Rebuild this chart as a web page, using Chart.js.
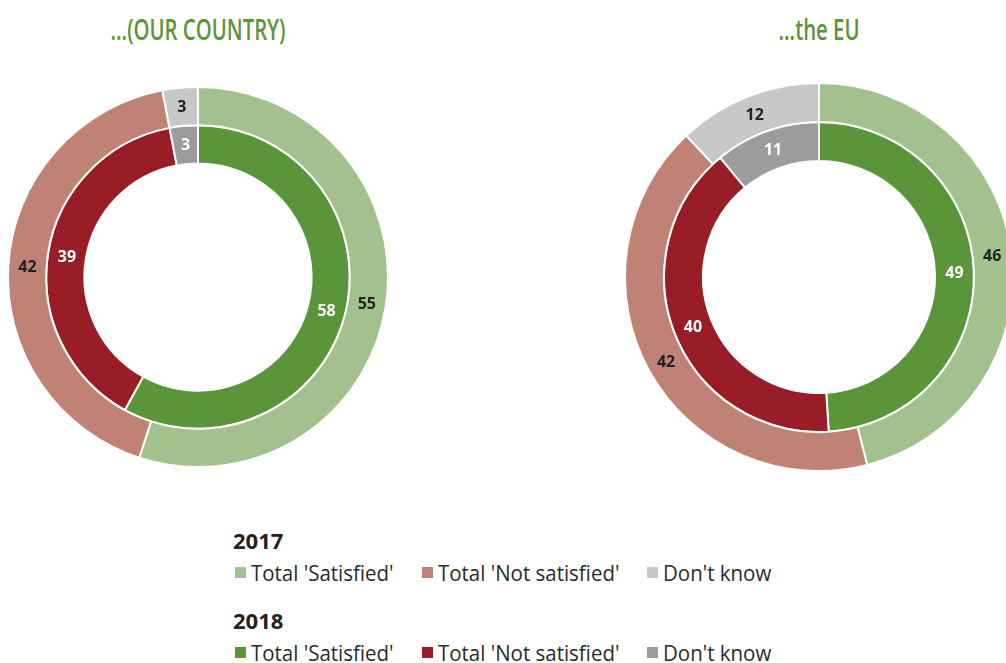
<!DOCTYPE html>
<html>
<head>
<meta charset="utf-8">
<script src="https://cdn.jsdelivr.net/npm/chart.js@4"></script>
<style>
  html, body { margin: 0; padding: 0; background: #fff; }
  body { width: 1006px; height: 663px; position: relative; overflow: hidden; }
  canvas { position: absolute; }
  .title { position: absolute; top: 9px; width: 400px; text-align: center; color: #5a953a;
    font-family: 'Open Sans', sans-serif; font-weight: 600; font-size: 29px; transform: scaleX(0.7); }
  .year { position: absolute; font-family: 'Open Sans', sans-serif; font-weight: bold; font-size: 22px; line-height: 30px; color: #222; }
  .sq { position: absolute; width: 11px; height: 11px; }
  .txt { position: absolute; font-family: 'Open Sans', sans-serif; font-size: 22px; line-height: 30px; color: #2a2a2a; white-space: nowrap;
    transform: scaleX(0.93); transform-origin: left; }
</style>
</head>
<body>
<div class="title" style="left:-2px">...(OUR COUNTRY)</div>
<div class="title" style="left:619px">...the EU</div>
<canvas id="country" width="390" height="390" style="left:3px;top:82px"></canvas>
<canvas id="eu" width="400" height="400" style="left:619px;top:77px"></canvas>
<div id="legend"></div>
<script>
const segments = ["Total 'Satisfied'", "Total 'Not satisfied'", "Don't know"];
const years = ['2017', '2018'];
const country2017 = [55, 42, 3];
const country2018 = [58, 39, 3];
const eu2017 = [46, 42, 12];
const eu2018 = [49, 40, 11];
const colors2017 = ['#a3c08f', '#c08274', '#c8c8c8'];
const colors2018 = ['#5a953a', '#981d27', '#9a9c9e'];
const labelColors = ['#222222', '#ffffff'];

const valueLabels = {
    id: 'valueLabels',
    afterDatasetsDraw(chart) {
        const ctx = chart.ctx;
        ctx.save();
        ctx.font = 'bold 16px "Open Sans", sans-serif';
        ctx.textAlign = 'center';
        ctx.textBaseline = 'middle';
        chart.data.datasets.forEach((ds, i) => {
            chart.getDatasetMeta(i).data.forEach((arc, j) => {
                const p = arc.tooltipPosition();
                ctx.fillStyle = labelColors[i];
                ctx.fillText(ds.data[j], p.x, p.y + 1);
            });
        });
        ctx.restore();
    }
};

function ring(id, outer, inner, radius, cutout) {
    new Chart(document.getElementById(id), {
        type: 'doughnut',
        data: {
            labels: segments,
            datasets: [
                { label: years[0], data: outer, backgroundColor: colors2017, borderColor: '#fff', borderWidth: 2 },
                { label: years[1], data: inner, backgroundColor: colors2018, borderColor: '#fff', borderWidth: 2 }
            ]
        },
        options: {
            responsive: false, animation: false,
            radius: radius, cutout: cutout,
            layout: { padding: 0 },
            plugins: { legend: { display: false }, tooltip: { enabled: false } }
        },
        plugins: [valueLabels]
    });
}

ring('country', country2017, country2018, 190, 116);
ring('eu', eu2017, eu2018, 194, 119);

// legend built from the same arrays
const legend = document.getElementById('legend');
const itemX = [235, 422, 647];
[colors2017, colors2018].forEach((cols, r) => {
    const dy = r * 80;
    legend.innerHTML += `<div class="year" style="left:233px;top:${525 + dy}px">${years[r]}</div>`;
    segments.forEach((s, k) => {
        legend.innerHTML += `<div class="sq" style="left:${itemX[k]}px;top:${567 + dy}px;background:${cols[k]}"></div>`;
        legend.innerHTML += `<div class="txt" style="left:${itemX[k] + 16}px;top:${557 + dy}px">${s}</div>`;
    });
});
</script>
</body>
</html>
